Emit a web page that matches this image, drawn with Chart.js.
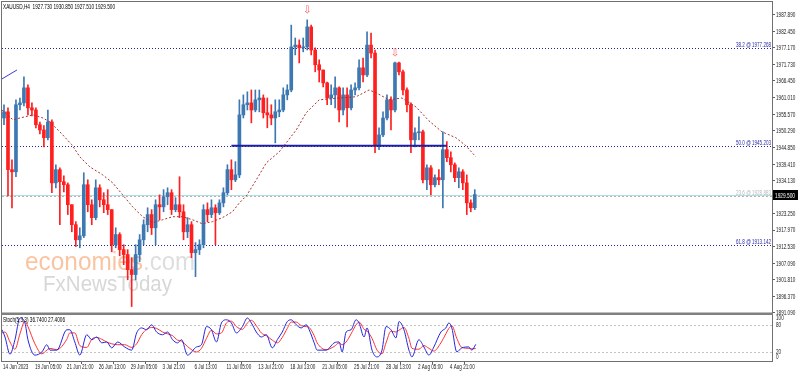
<!DOCTYPE html>
<html>
<head>
<meta charset="utf-8">
<script src="https://cdn.jsdelivr.net/npm/chart.js@4.4.0/dist/chart.umd.min.js"></script>
<style>
html, body { margin: 0; padding: 0; background: #fff; overflow: hidden; }
#wrap { position: relative; width: 798px; height: 372px; }
</style>
</head>
<body>
<div id="wrap"><canvas id="myChart" width="798" height="372"></canvas></div>
<script>
// XAUUSD H4, 14 Jun - 7 Aug 2023 (bars)
const tickLabels = ['14 Jun 2023', '19 Jun 05:00', '21 Jun 21:00', '26 Jun 13:00', '29 Jun 05:00', '3 Jul 21:00',
    '6 Jul 13:00', '11 Jul 05:00', '13 Jul 21:00', '18 Jul 13:00', '21 Jul 05:00', '25 Jul 21:00',
    '28 Jul 13:00', '2 Aug 05:00', '4 Aug 21:00'];

const opens = [1954.4, 1956.4, 1937.6, 1936.9, 1958.7, 1959.3, 1964.2, 1957.7, 1957.0, 1952.2,
    1950.5, 1948.0, 1953.1, 1933.3, 1937.6, 1933.7, 1932.7, 1926.2, 1919.7, 1914.8,
    1916.1, 1932.7, 1926.2, 1922.0, 1931.7, 1927.8, 1926.2, 1924.6, 1913.2, 1916.5,
    1911.6, 1910.0, 1905.1, 1903.5, 1910.0, 1914.8, 1919.7, 1923.0, 1918.7, 1926.2,
    1925.5, 1928.8, 1930.1, 1924.6, 1926.2, 1923.9, 1917.4, 1919.7, 1910.6, 1911.6,
    1913.2, 1924.6, 1923.0, 1925.2, 1923.6, 1926.8, 1930.1, 1937.6, 1934.3, 1935.9,
    1955.4, 1958.7, 1959.3, 1957.0, 1960.3, 1960.9, 1956.1, 1955.4, 1954.4, 1956.4,
    1957.0, 1961.9, 1963.5, 1977.5, 1978.1, 1977.2, 1977.5, 1984.0, 1976.5, 1971.7,
    1970.0, 1965.8, 1960.9, 1961.9, 1964.2, 1957.0, 1961.9, 1957.7, 1963.5, 1964.2,
    1970.7, 1968.4, 1978.1, 1975.5, 1945.7, 1948.9, 1954.4, 1960.3, 1957.0, 1972.3,
    1969.4, 1963.5, 1958.7, 1947.3, 1949.6, 1949.9, 1934.3, 1938.2, 1932.7, 1935.0,
    1934.3, 1944.1, 1941.5, 1939.2, 1935.0, 1936.9, 1933.3, 1926.8, 1925.2];
const highs = [1958.7, 1957.7, 1940.8, 1960.3, 1960.9, 1967.8, 1965.2, 1959.3, 1957.7, 1953.1,
    1951.9, 1957.0, 1953.8, 1939.2, 1938.2, 1935.6, 1933.3, 1926.2, 1920.7, 1918.7,
    1936.6, 1934.3, 1927.8, 1934.3, 1932.7, 1930.1, 1931.1, 1924.6, 1918.7, 1917.1,
    1913.2, 1911.6, 1909.0, 1913.2, 1916.5, 1921.3, 1925.2, 1924.6, 1927.8, 1929.4,
    1931.1, 1931.7, 1931.1, 1928.5, 1935.3, 1926.2, 1922.0, 1920.7, 1913.9, 1914.8,
    1926.2, 1926.8, 1927.8, 1926.2, 1927.8, 1931.7, 1939.2, 1940.8, 1940.2, 1960.3,
    1961.9, 1962.9, 1963.5, 1963.5, 1963.5, 1961.9, 1960.9, 1958.7, 1960.3, 1960.3,
    1964.2, 1965.2, 1984.6, 1980.4, 1979.8, 1980.4, 1986.3, 1984.6, 1977.2, 1973.3,
    1970.0, 1966.1, 1965.2, 1967.8, 1964.5, 1964.2, 1964.2, 1965.2, 1965.8, 1973.3,
    1973.9, 1982.4, 1982.0, 1976.5, 1951.2, 1956.4, 1961.9, 1961.3, 1972.6, 1972.6,
    1970.0, 1964.2, 1959.3, 1951.2, 1954.8, 1950.5, 1939.2, 1938.9, 1935.9, 1937.6,
    1949.9, 1946.7, 1943.4, 1939.8, 1938.2, 1937.6, 1935.9, 1927.8, 1931.1];
const lows = [1952.2, 1929.1, 1925.2, 1935.3, 1957.0, 1958.3, 1955.4, 1955.1, 1951.2, 1949.2,
    1945.0, 1947.3, 1930.1, 1931.7, 1919.7, 1930.4, 1923.0, 1917.4, 1912.6, 1912.2,
    1915.5, 1923.9, 1919.7, 1921.3, 1925.5, 1923.6, 1923.0, 1910.9, 1912.2, 1909.6,
    1906.7, 1901.8, 1893.1, 1901.8, 1907.7, 1913.2, 1917.4, 1916.5, 1913.2, 1921.3,
    1923.9, 1926.2, 1923.0, 1923.9, 1922.0, 1914.8, 1915.5, 1909.0, 1902.8, 1910.0,
    1912.2, 1920.7, 1922.0, 1913.2, 1923.0, 1925.5, 1929.4, 1931.1, 1933.7, 1935.0,
    1954.4, 1957.0, 1952.8, 1956.4, 1956.4, 1954.4, 1951.2, 1952.2, 1946.3, 1954.8,
    1956.4, 1960.3, 1962.9, 1974.9, 1972.3, 1975.9, 1976.5, 1974.9, 1969.4, 1966.1,
    1964.5, 1958.7, 1958.7, 1957.7, 1953.1, 1955.4, 1951.5, 1957.0, 1961.9, 1963.5,
    1966.1, 1967.8, 1973.9, 1943.1, 1944.1, 1948.3, 1953.8, 1950.5, 1956.4, 1968.4,
    1961.9, 1956.4, 1943.1, 1945.0, 1947.3, 1933.3, 1931.1, 1929.4, 1932.0, 1932.7,
    1925.2, 1940.2, 1936.9, 1933.7, 1931.7, 1931.1, 1923.0, 1923.9, 1924.6];
const closes = [1956.4, 1937.6, 1936.9, 1958.7, 1959.3, 1964.2, 1957.7, 1957.0, 1952.2, 1950.5,
    1948.0, 1953.1, 1933.3, 1937.6, 1933.7, 1932.7, 1926.2, 1919.7, 1914.8, 1916.1,
    1932.7, 1926.2, 1922.0, 1931.7, 1927.8, 1926.2, 1924.6, 1913.2, 1916.5, 1911.6,
    1910.0, 1905.1, 1903.5, 1910.0, 1914.8, 1919.7, 1923.0, 1918.7, 1926.2, 1925.5,
    1928.8, 1930.1, 1924.6, 1926.2, 1923.9, 1917.4, 1919.7, 1910.6, 1911.6, 1913.2,
    1924.6, 1923.0, 1925.2, 1923.6, 1926.8, 1930.1, 1937.6, 1934.3, 1935.9, 1955.4,
    1958.7, 1959.3, 1957.0, 1960.3, 1960.9, 1956.1, 1955.4, 1954.4, 1956.4, 1957.0,
    1961.9, 1963.5, 1977.5, 1978.1, 1977.2, 1977.5, 1984.0, 1976.5, 1971.7, 1970.0,
    1965.8, 1960.9, 1961.9, 1964.2, 1957.0, 1961.9, 1957.7, 1963.5, 1964.2, 1970.7,
    1968.4, 1978.1, 1975.5, 1945.7, 1948.9, 1954.4, 1960.3, 1957.0, 1972.3, 1969.4,
    1963.5, 1958.7, 1947.3, 1949.6, 1949.9, 1934.3, 1938.2, 1932.7, 1935.0, 1934.3,
    1944.1, 1941.5, 1939.2, 1935.0, 1936.9, 1933.3, 1926.8, 1925.2, 1929.5];

// moving average, sampled along the dashed line (x in bars)
const maBars = [-0.5, 2.25, 4, 7.25, 9.75, 11.5, 14, 17, 19, 21.5, 24.75, 27.25, 29.75, 32.25, 34.75, 37.25,
    39.75, 42.25, 44.75, 47.25, 49.75, 52.25, 54.75, 57.25, 59, 60.75, 63.25, 65.75, 69, 73.25, 75.75,
    79, 84, 88.25, 91.5, 93.25, 96.5, 99.75, 103.25, 106.5, 109.75, 113.25, 115.75, 118.25];
const maValues = [1957.0, 1953.8, 1954.4, 1955.4, 1954.4, 1953.1, 1949.9, 1945.7, 1941.8, 1938.5, 1935.9,
    1933.3, 1929.4, 1925.5, 1922.3, 1920.4, 1921.3, 1922.3, 1922.3, 1921.3, 1920.0, 1920.7, 1922.0,
    1923.9, 1926.8, 1929.1, 1934.3, 1939.8, 1943.4, 1950.5, 1956.1, 1960.3, 1960.9, 1961.3, 1963.5,
    1962.6, 1960.3, 1960.9, 1958.0, 1953.5, 1949.9, 1948.0, 1945.4, 1941.8];

// Stochastic (5,3,3)
const stochBars = [-0.5, 0.25, 1.5, 2.75, 4, 5.25, 6, 7.75, 9.5, 10.75, 11.5, 13.25, 15.75, 16.5, 17.75, 19,
    20.75, 22, 23.25, 24.5, 25.75, 27, 28.5, 30.25, 32, 33.25, 34.5, 35.75, 37, 38.25, 39.75, 41, 42.25,
    43.5, 44.5, 46, 48.25, 49.5, 50.75, 52, 53.25, 54.5, 55.75, 57, 58.25, 59.75, 61, 62, 63.25, 64.5,
    65.75, 67.25, 68.5, 69.75, 71, 72, 73.25, 74.5, 75.75, 76.5, 77.75, 78.5, 80.75, 82.75, 84, 84.75,
    85.75, 87, 88.25, 89, 90.25, 91, 92.25, 93.5, 94.75, 95.75, 97, 98.25, 99, 100.25, 101.5, 102.25,
    104, 105.25, 106.5, 107.75, 109.5, 110.75, 111.5, 112.25, 113.5, 114.75, 116.5, 117.25, 118.25];
const stochK = [69, 53, 15, 47, 95, 84, 47, 13, 20, 36, 24, 24, 69, 69, 42, 13, 58, 47, 53, 40, 42, 29, 42,
    31, 24, 62, 73, 69, 80, 64, 58, 64, 47, 40, 47, 13, 31, 36, 76, 69, 42, 84, 91, 84, 62, 76, 95, 84,
    64, 53, 58, 29, 47, 64, 87, 91, 80, 73, 80, 69, 40, 24, 24, 40, 42, 20, 64, 69, 91, 84, 53, 73, 24,
    9, 24, 76, 69, 51, 87, 69, 24, 9, 47, 31, 13, 31, 64, 73, 84, 73, 20, 29, 31, 24, 36.74];
const stochD = [62, 64, 42, 26, 60, 88, 76, 38, 16, 24, 28, 25, 48, 62, 62, 34, 30, 48, 52, 48, 42, 38, 36,
    36, 30, 38, 58, 70, 74, 72, 64, 60, 56, 46, 44, 32, 20, 28, 50, 68, 60, 62, 84, 88, 76, 70, 84, 90,
    78, 62, 56, 46, 40, 52, 72, 86, 86, 78, 76, 74, 56, 40, 25, 32, 40, 36, 42, 60, 80, 86, 70, 66, 50,
    24, 16, 40, 66, 64, 68, 74, 50, 28, 26, 34, 28, 22, 40, 60, 72, 78, 50, 30, 28, 27, 27.4];

const priceTicks = [1987.89, 1982.45, 1977.17, 1971.73, 1966.45, 1961.01, 1955.57, 1950.29, 1944.85,
    1939.41, 1934.13, 1928.69, 1923.25, 1917.97, 1912.53, 1907.09, 1901.81, 1896.37, 1891.09];
const stochTicks = [0, 20, 80, 100];
const fibNames = ['38.2', '50.0', '61.8'];
const fibPrices = [1977.268, 1945.203, 1913.142];
const greyName = '23.6';
const greyPrice = 1928.883;
const bidPrice = 1929.5;
const necklineBars = [57, 111];
const necklinePrice = 1945.4;
const trendBars = [-0.5, 3.25];
const trendPrices = [1967.1, 1970.0];
const arrowBars = [76, 98];
const arrowPrices = [1989.5, 1975.5];
const headerText = 'XAUUSD,H4  1927.730 1930.850 1927.510 1929.500';
const stochText = 'Stoch(5,3,3) 36.7400 27.4006';

const UP = '#3d78b2';
const DOWN = '#ff1f1f';
const FONT = "'Liberation Sans', Arial, sans-serif";
const NARROW = 0.66;   // horizontal squeeze of axis text

const bars = closes.map((c, i) => i);
const barColors = bars.map(i => closes[i] >= opens[i] ? UP : DOWN);

// squeeze a string into a given width, MT4 text is very narrow
function fitText(ctx, str, x, y, w, size, color, alignRight) {
    ctx.save();
    ctx.font = size + 'px ' + FONT;
    const m = ctx.measureText(str).width;
    ctx.translate(alignRight ? x - w : x, y);
    ctx.scale(w / m, 1);
    ctx.fillStyle = color;
    ctx.textAlign = 'left';
    ctx.textBaseline = 'alphabetic';
    ctx.fillText(str, 0, 0);
    ctx.restore();
}

function narrowText(ctx, str, x, y, size, color) {
    ctx.save();
    ctx.font = size + 'px ' + FONT;
    ctx.translate(x, y);
    ctx.scale(NARROW, 1);
    ctx.fillStyle = color;
    ctx.textAlign = 'left';
    ctx.textBaseline = 'middle';
    ctx.fillText(str, 0, 0);
    ctx.restore();
}

const decor = {
    id: 'decor',
    beforeDatasetsDraw(chart) {
        const ctx = chart.ctx;
        const area = chart.chartArea;
        const y = chart.scales.y;
        const y2 = chart.scales.y2;

        // watermark
        ctx.save();
        ctx.globalAlpha = 0.6;
        fitText(ctx, 'economies', 25, 270, 118, 26, '#f59d62', false);
        fitText(ctx, '.com', 143, 270, 52, 26, '#c8c8c8', false);
        fitText(ctx, 'FxNewsToday', 43, 291, 129, 22, '#bdbdbd', false);
        ctx.restore();

        // level lines
        ctx.save();
        ctx.lineWidth = 1;
        const bidY = Math.round(y.getPixelForValue(bidPrice)) + 0.5;
        ctx.strokeStyle = '#aee0e6';
        ctx.beginPath(); ctx.moveTo(area.left, bidY); ctx.lineTo(area.right, bidY); ctx.stroke();
        ctx.setLineDash([2, 2]);
        const gy = Math.round(y.getPixelForValue(greyPrice)) + 0.5;
        ctx.strokeStyle = '#b4b4b4';
        ctx.beginPath(); ctx.moveTo(area.left, gy); ctx.lineTo(area.right, gy); ctx.stroke();
        ctx.strokeStyle = '#22229a';
        ctx.setLineDash([1, 2]);
        fibPrices.forEach(p => {
            const py = Math.round(y.getPixelForValue(p)) + 0.5;
            ctx.beginPath(); ctx.moveTo(area.left, py); ctx.lineTo(area.right, py); ctx.stroke();
        });
        ctx.strokeStyle = '#c4c4c4';
        ctx.setLineDash([2, 2]);
        [20, 80].forEach(v => {
            const py = Math.round(y2.getPixelForValue(v)) + 0.5;
            ctx.beginPath(); ctx.moveTo(area.left, py); ctx.lineTo(area.right, py); ctx.stroke();
        });
        ctx.restore();
    },
    afterDatasetsDraw(chart) {
        const ctx = chart.ctx;
        const area = chart.chartArea;
        const x = chart.scales.x;
        const y = chart.scales.y;

        fibNames.forEach((n, k) => {
            const py = y.getPixelForValue(fibPrices[k]);
            fitText(ctx, n + ' @ ' + fibPrices[k].toFixed(3), area.right - 1, py - 1, 35, 7, '#2a2aa8', true);
        });
        fitText(ctx, greyName + ' @ ' + greyPrice.toFixed(3), area.right - 1, y.getPixelForValue(greyPrice) - 1,
            35, 7, '#b8b8b8', true);

        // fractal arrows
        ctx.save();
        ctx.fillStyle = '#ff5a5a';
        ctx.font = '10px DejaVu Sans';
        ctx.textAlign = 'center';
        ctx.textBaseline = 'middle';
        arrowBars.forEach((b, k) => ctx.fillText('\u21E9', x.getPixelForValue(b), y.getPixelForValue(arrowPrices[k])));
        ctx.restore();

        fitText(ctx, headerText, 3, 9, 112, 7, '#000', false);
        fitText(ctx, stochText, 3, y.bottom + 9, 62, 7, '#000', false);
    },
    afterDraw(chart) {
        const ctx = chart.ctx;
        const area = chart.chartArea;
        const x = chart.scales.x;
        const y = chart.scales.y;
        const y2 = chart.scales.y2;
        ctx.save();
        ctx.strokeStyle = '#707070';
        ctx.lineWidth = 1;
        ctx.strokeRect(area.left - 0.5, area.top - 0.5, area.right - area.left + 1, area.bottom - area.top + 1);
        ctx.fillStyle = '#808080';
        ctx.fillRect(area.left - 1, y.bottom - 0.5, area.right - area.left + 2, 2.5);
        ctx.restore();

        // axis labels
        priceTicks.forEach(v => narrowText(ctx, v.toFixed(3), area.right + 4, y.getPixelForValue(v) + 0.5, 7, '#202020'));
        stochTicks.forEach(v => {
            const py = Math.min(Math.max(y2.getPixelForValue(v), y2.top + 5), y2.bottom - 4);
            narrowText(ctx, String(v), area.right + 4, py, 7, '#202020');
        });
        tickLabels.forEach((t, k) => narrowText(ctx, t, x.getPixelForValue(k * 8 - 0.5) + 1, area.bottom + 6, 7, '#202020'));

        // current price box
        const py = Math.round(y.getPixelForValue(bidPrice));
        ctx.save();
        ctx.fillStyle = '#000';
        ctx.fillRect(area.right + 1, py - 5, 798 - area.right - 1, 10);
        ctx.restore();
        fitText(ctx, bidPrice.toFixed(3), area.right + 3, py + 3, 20, 7, '#fff', false);
    }
};

const ctx = document.getElementById('myChart').getContext('2d');

const myChart = new Chart(ctx, {
    type: 'bar',
    data: {
        datasets: [
            {
                type: 'line', label: 'MA', yAxisID: 'y', order: 0,
                data: maBars.map((b, k) => ({ x: b, y: maValues[k] })),
                borderColor: '#a8322c', borderWidth: 1, borderDash: [2, 2], pointRadius: 0
            },
            {
                type: 'line', label: 'Neckline', yAxisID: 'y', order: 0,
                data: necklineBars.map(b => ({ x: b, y: necklinePrice })),
                borderColor: '#1e1ea6', borderWidth: 2, pointRadius: 0
            },
            {
                type: 'line', label: 'Trend', yAxisID: 'y', order: 0,
                data: trendBars.map((b, k) => ({ x: b, y: trendPrices[k] })),
                borderColor: '#3a3ac8', borderWidth: 1, pointRadius: 0
            },
            {
                label: 'Body', yAxisID: 'y', order: 1,
                data: bars.map(i => ({ x: i, y: [opens[i], closes[i]] })),
                backgroundColor: barColors, barThickness: 3, minBarLength: 1, grouped: false
            },
            {
                label: 'Wick', yAxisID: 'y', order: 2,
                data: bars.map(i => ({ x: i, y: [lows[i], highs[i]] })),
                backgroundColor: barColors, barThickness: 1, grouped: false
            },
            {
                type: 'line', label: '%K', yAxisID: 'y2', order: 0,
                data: stochBars.map((b, k) => ({ x: b, y: stochK[k] })),
                borderColor: '#2424e0', borderWidth: 1, pointRadius: 0, cubicInterpolationMode: 'monotone'
            },
            {
                type: 'line', label: '%D', yAxisID: 'y2', order: 1,
                data: stochBars.map((b, k) => ({ x: b, y: stochD[k] })),
                borderColor: '#ff3030', borderWidth: 1, pointRadius: 0, cubicInterpolationMode: 'monotone'
            }
        ]
    },
    options: {
        responsive: false,
        animation: false,
        devicePixelRatio: 1,
        layout: { padding: { top: 2, left: 2, right: 0, bottom: 0 } },
        plugins: { legend: { display: false }, tooltip: { enabled: false } },
        scales: {
            x: {
                type: 'linear', min: -0.5, max: 192.5, offset: false,
                grid: { display: true, drawOnChartArea: false, tickLength: 3, color: '#606060' },
                border: { display: false },
                ticks: { display: false },
                afterBuildTicks: s => { s.ticks = tickLabels.map((t, k) => ({ value: k * 8 - 0.5 })); },
                afterFit: s => { s.height = 11; }
            },
            y: {
                type: 'linear', position: 'right', stack: 'panes', stackWeight: 311,
                min: 1891.0, max: 1992.1,
                grid: { display: true, drawOnChartArea: false, tickLength: 3, color: '#606060' },
                border: { display: false },
                ticks: { display: false },
                afterBuildTicks: s => { s.ticks = priceTicks.map(v => ({ value: v })); },
                afterFit: s => { s.width = 26; }
            },
            y2: {
                type: 'linear', position: 'right', stack: 'panes', stackWeight: 48,
                min: 0, max: 106,
                grid: { display: false },
                border: { display: false },
                ticks: { display: false },
                afterBuildTicks: s => { s.ticks = stochTicks.map(v => ({ value: v })); },
                afterFit: s => { s.width = 26; }
            }
        }
    },
    plugins: [decor]
});
</script>
</body>
</html>
